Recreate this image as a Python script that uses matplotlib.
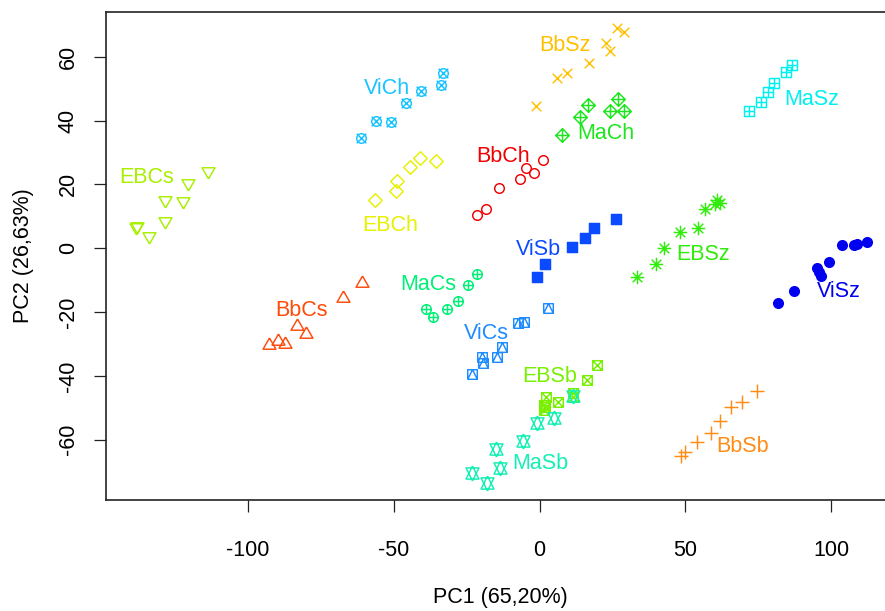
import numpy as np
import matplotlib
matplotlib.use("Agg")
import matplotlib.pyplot as plt
from matplotlib.path import Path

# ---- PCA scores per group -------------------------------------------------
ebcs_x = [-113.6, -120.5, -128.5, -122.2, -128.5, -138.2, -138.4, -133.9]
ebcs_y = [24.3, 20.5, 15.1, 14.9, 8.5, 7.0, 6.6, 3.8]

vich_x = [-33.0, -33.8, -40.8, -45.9, -56.1, -50.9, -61.3]
vich_y = [54.8, 51.2, 49.3, 45.4, 40.0, 39.7, 34.5]

ebch_x = [-56.4, -49.2, -48.9, -44.4, -41.0, -35.5]
ebch_y = [15.1, 17.9, 21.1, 25.5, 28.3, 27.3]

bbch_x = [-21.4, -18.4, -13.9, -6.7, -4.6, -1.9, 1.2]
bbch_y = [10.4, 12.3, 18.9, 21.7, 25.1, 23.6, 27.6]

bbsz_x = [26.5, 29.0, 22.8, 24.2, 17.1, 9.5, 6.1, -1.2]
bbsz_y = [68.9, 67.7, 64.2, 61.9, 58.2, 54.8, 53.3, 44.6]

mach_x = [27.0, 16.7, 24.2, 29.1, 13.9, 7.6]
mach_y = [46.8, 44.9, 43.0, 43.0, 41.2, 35.5]

masz_x = [86.5, 84.6, 80.5, 78.3, 75.9, 71.9]
masz_y = [57.4, 55.3, 51.9, 48.9, 45.9, 43.0]

visb_x = [26.2, 18.7, 15.6, 11.0, 1.9, -1.0]
visb_y = [9.1, 6.2, 3.1, 0.5, -5.0, -9.1]

ebsz_x = [60.8, 61.9, 60.2, 56.8, 54.5, 48.2, 42.7, 39.9, 33.3]
ebsz_y = [15.1, 14.3, 13.9, 12.2, 6.4, 5.2, 0.0, -5.0, -9.1]

visz_x = [103.7, 107.7, 109.0, 112.2, 99.3, 95.3, 95.9, 96.6, 87.1, 81.7]
visz_y = [1.0, 1.0, 1.2, 2.0, -4.4, -6.1, -7.4, -8.7, -13.4, -17.3]

bbcs_x = [-61.0, -67.5, -83.3, -80.2, -92.8, -89.6, -87.3]
bbcs_y = [-11.0, -15.7, -24.4, -26.9, -30.3, -29.0, -30.0]

macs_x = [-21.3, -24.4, -27.9, -31.6, -38.9, -36.4]
macs_y = [-8.1, -11.5, -16.5, -19.1, -19.1, -21.5]

vics_x = [3.0, -5.3, -7.3, -13.0, -14.7, -19.8, -19.3, -23.3]
vics_y = [-18.8, -23.0, -23.4, -30.9, -34.2, -34.2, -36.1, -39.4]

ebsb_x = [19.8, 16.4, 11.3, 11.3, 2.2, 6.2, 1.6, 1.6, 1.9]
ebsb_y = [-36.6, -41.3, -45.5, -46.6, -46.6, -48.1, -49.2, -50.7, -49.9]

masb_x = [11.6, 5.0, -1.0, -5.6, -15.0, -13.6, -23.3, -18.1]
masb_y = [-46.3, -53.3, -54.9, -60.3, -63.0, -68.8, -70.4, -73.7]

bbsb_x = [74.7, 69.4, 65.6, 61.9, 58.7, 54.1, 49.9, 48.4]
bbsb_y = [-44.8, -48.1, -49.9, -54.1, -57.8, -60.7, -63.8, -65.1]

group_names = ["EBCs", "ViCh", "EBCh", "BbCh", "BbSz", "MaCh", "MaSz", "ViSb",
               "EBSz", "ViSz", "BbCs", "MaCs", "ViCs", "EBSb", "MaSb", "BbSb"]
group_colors = ["#A8F000", "#18C4FF", "#E6F000", "#F00000", "#FFC000", "#1EE61E",
                "#00F0F0", "#0A4BFF", "#30EC0A", "#0000F0", "#FF4A0A", "#00F078",
                "#1E8CFF", "#78F000", "#14F0B4", "#FF8C14"]
group_pch = [6, 13, 5, 1, 4, 9, 12, 15, 8, 16, 2, 10, 14, 7, 11, 3]
label_x = [-134.7, -52.4, -51.3, -12.5, 8.7, 22.8, 93.4, -0.4,
           56.2, 102.5, -81.6, -38.1, -18.1, 3.4, 0.2, 69.7]
label_y = [22.3, 50.1, 7.0, 28.6, 63.4, 36.0, 46.5, -0.3,
           -2.1, -13.6, -19.4, -11.3, -26.7, -40.1, -67.4, -62.2]

xs = [ebcs_x, vich_x, ebch_x, bbch_x, bbsz_x, mach_x, masz_x, visb_x,
      ebsz_x, visz_x, bbcs_x, macs_x, vics_x, ebsb_x, masb_x, bbsb_x]
ys = [ebcs_y, vich_y, ebch_y, bbch_y, bbsz_y, mach_y, masz_y, visb_y,
      ebsz_y, visz_y, bbcs_y, macs_y, vics_y, ebsb_y, masb_y, bbsb_y]

# ---- plotting-symbol paths (unit = symbol radius) -------------------------
T0 = np.sqrt(4 * np.pi / (3 * np.sqrt(3)))
T1 = T0 * np.sqrt(3) / 2
T2 = T0 / 2
S2 = np.sqrt(2)


def segs(*polylines):
    verts, codes = [], []
    for pl in polylines:
        for i, p in enumerate(pl):
            verts.append(p)
            codes.append(Path.MOVETO if i == 0 else Path.LINETO)
    return Path(verts, codes)


def ring(pts):
    return list(pts) + [pts[0]]


CIRC = Path.circle((0, 0), 1.0)
SQ = ring([(-1, -1), (1, -1), (1, 1), (-1, 1)])
XL = [[(-1, -1), (1, 1)], [(-1, 1), (1, -1)]]
PL1 = [[(-1, 0), (1, 0)], [(0, -1), (0, 1)]]
PL2 = [[(-S2, 0), (S2, 0)], [(0, -S2), (0, S2)]]
DIA = ring([(S2, 0), (0, S2), (-S2, 0), (0, -S2)])
yc11 = 0.5 * (T2 + T0)

symbols = {
    1: (CIRC, False),
    2: (segs(ring([(0, T0), (T1, -T2), (-T1, -T2)])), False),
    3: (segs(*PL2), False),
    4: (segs(*XL), False),
    5: (segs(DIA), False),
    6: (segs(ring([(0, -T0), (T1, T2), (-T1, T2)])), False),
    7: (segs(SQ, *XL), False),
    8: (segs(*XL, *PL2), False),
    9: (segs(DIA, *PL2), False),
    10: (Path.make_compound_path(CIRC, segs(*PL1)), False),
    11: (segs(ring([(0, -T0), (T1, yc11), (-T1, yc11)]),
              ring([(0, T0), (T1, -yc11), (-T1, -yc11)])), False),
    12: (segs(SQ, *PL1), False),
    13: (Path.make_compound_path(CIRC, segs(*XL)), False),
    14: (segs(SQ, [(-1, -1), (0, 1), (1, -1)]), False),
    15: (Path([(-1, -1), (1, -1), (1, 1), (-1, 1), (-1, -1)],
              [Path.MOVETO, Path.LINETO, Path.LINETO, Path.LINETO, Path.CLOSEPOLY]), True),
    16: (CIRC, True),
}

DPI = 100
RADIUS_PX = 4.8

plt.rcParams["axes.unicode_minus"] = False
plt.rcParams["font.family"] = ["Liberation Sans", "DejaVu Sans"]
FONT = ["Liberation Sans", "DejaVu Sans"]
FS = 15.5

W, H = 885, 611
fig = plt.figure(figsize=(W / DPI, H / DPI), dpi=DPI)
fig.patch.set_facecolor("white")

left_px, right_px, top_px, bottom_px = 106, 895, 12, 500
ax = fig.add_axes([left_px / W, 1 - bottom_px / H,
                   (right_px - left_px) / W, (bottom_px - top_px) / H])
ax.set_xlim(-148.7, 121.9)
ax.set_ylim(-78.93, 74.05)

for gx, gy, col, pch, name, lx, ly in zip(xs, ys, group_colors, group_pch,
                                          group_names, label_x, label_y):
    path, filled = symbols[pch]
    extent = np.max(np.abs(path.vertices))
    ms = 2 * extent * RADIUS_PX * 72 / DPI
    ax.plot(gx, gy, linestyle="none", marker=path, markersize=ms,
            markeredgecolor=col, markerfacecolor=col if filled else "none",
            markeredgewidth=1.05, clip_on=False)
    ax.text(lx, ly, name, color=col, fontsize=FS, ha="center", va="center",
            family=FONT)

for side in ("left", "bottom", "top"):
    ax.spines[side].set_linewidth(1.2)
    ax.spines[side].set_color("#222222")
ax.spines["right"].set_visible(False)

ax.set_xticks([-100, -50, 0, 50, 100])
ax.set_yticks([-60, -40, -20, 0, 20, 40, 60])
ax.tick_params(axis="both", direction="out", length=8.5, width=0.9,
               color="#222222", labelsize=FS, top=False, right=False)
ax.tick_params(axis="x", pad=20)
ax.tick_params(axis="y", pad=11)
for lab in ax.get_yticklabels():
    lab.set_rotation(90)
    lab.set_va("center")
for lab in ax.get_xticklabels() + ax.get_yticklabels():
    lab.set_family(FONT)

fig.text(500 / W, 1 - 598 / H, "PC1 (65,20%)", fontsize=FS, ha="center",
         va="center", family=FONT)
fig.text(23 / W, 1 - 256 / H, "PC2 (26,63%)", fontsize=FS, ha="center",
         va="center", rotation=90, family=FONT)

fig.savefig("out.png", dpi=DPI, facecolor="white")
